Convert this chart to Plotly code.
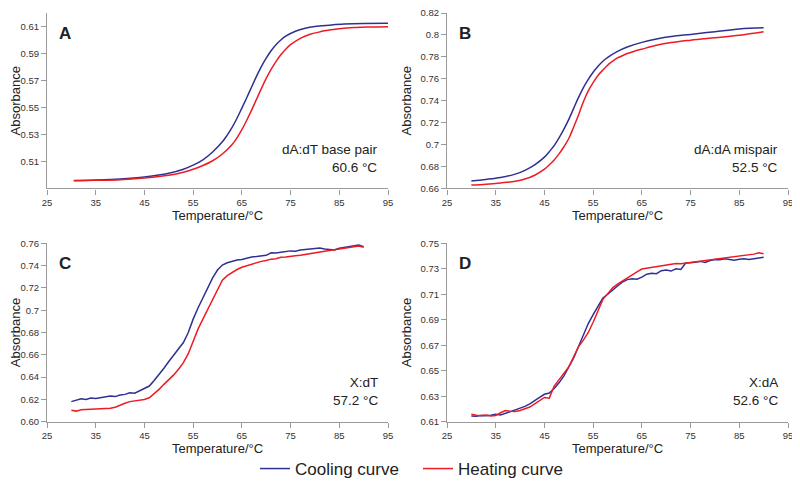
import plotly.graph_objects as go

# -------------------------
# Data
# -------------------------
# A) dA:dT base pair
a_cool_t = [30.5, 35, 40, 45, 50, 53, 55, 57, 59, 61, 62, 63, 64, 65, 66, 67, 68, 69, 70,
            71, 72, 73, 74, 76, 78, 80, 83, 86, 90, 95]
a_cool = [0.4958, 0.4962, 0.4970, 0.4985, 0.5012, 0.5042, 0.5072, 0.5112, 0.5170, 0.5245,
          0.5295, 0.5352, 0.5420, 0.5495, 0.5572, 0.5652, 0.5730, 0.5802, 0.5865, 0.5920,
          0.5965, 0.6000, 0.6028, 0.6065, 0.6087, 0.6100, 0.6110, 0.6118, 0.6123, 0.6124]
a_heat_t = [30.5, 35, 40, 45, 50, 53, 55, 57, 59, 61, 63, 64, 65, 66, 67, 68, 69, 70, 71,
            72, 73, 74, 75, 77, 79, 81, 82, 85, 88, 91, 95]
a_heat = [0.4957, 0.4960, 0.4965, 0.4978, 0.4998, 0.5020, 0.5042, 0.5070, 0.5105, 0.5155,
          0.5225, 0.5275, 0.5335, 0.5405, 0.5480, 0.5560, 0.5640, 0.5715, 0.5782, 0.5840,
          0.5890, 0.5932, 0.5965, 0.6012, 0.6042, 0.6060, 0.6068, 0.6083, 0.6092, 0.6096,
          0.6098]

# B) dA:dA mispair
b_cool_t = [30, 33, 36, 39, 41, 43, 45, 46, 47, 48, 49, 50, 51, 52, 53, 54, 55, 56, 57, 58,
            60, 62, 65, 68, 71, 75, 80, 85, 90]
b_cool = [0.6668, 0.6682, 0.6700, 0.6730, 0.6765, 0.6815, 0.6885, 0.6935, 0.6990, 0.7060,
          0.7140, 0.7230, 0.7330, 0.7430, 0.7520, 0.7595, 0.7660, 0.7715, 0.7760, 0.7795,
          0.7850, 0.7890, 0.7932, 0.7962, 0.7985, 0.8005, 0.8030, 0.8055, 0.8065]
b_heat_t = [30, 33, 36, 39, 41, 43, 45, 46, 47, 48, 49, 50, 51, 52, 53, 54, 55, 56, 57, 58,
            59, 60, 61, 62, 63, 65, 68, 71, 75, 80, 85, 90]
b_heat = [0.6630, 0.6638, 0.6650, 0.6665, 0.6685, 0.6720, 0.6775, 0.6815, 0.6860, 0.6915,
          0.6980, 0.7055, 0.7160, 0.7270, 0.7390, 0.7490, 0.7565, 0.7630, 0.7680, 0.7725,
          0.7760, 0.7790, 0.7810, 0.7830, 0.7845, 0.7870, 0.7905, 0.7930, 0.7952, 0.7975,
          0.7998, 0.8030]

# C) X:dT and D) X:dA, one reading per degree
temp_cd = list(range(30, 91))
c_cool = [0.6180, 0.6195, 0.6205, 0.6200, 0.6212, 0.6208, 0.6215, 0.6220, 0.6230, 0.6225,
          0.6240, 0.6245, 0.6260, 0.6255, 0.6275, 0.6300, 0.6320, 0.6370, 0.6420, 0.6480,
          0.6540, 0.6600, 0.6660, 0.6710, 0.6800, 0.6920, 0.7020, 0.7110, 0.7190, 0.7290,
          0.7360, 0.7405, 0.7425, 0.7440, 0.7450, 0.7455, 0.7470, 0.7478, 0.7482, 0.7488,
          0.7492, 0.7515, 0.7512, 0.7520, 0.7525, 0.7532, 0.7528, 0.7540, 0.7545, 0.7548,
          0.7552, 0.7558, 0.7548, 0.7545, 0.7540, 0.7555, 0.7562, 0.7568, 0.7572, 0.7585,
          0.7570]
c_heat = [0.6102, 0.6095, 0.6108, 0.6110, 0.6115, 0.6120, 0.6118, 0.6122, 0.6120, 0.6130,
          0.6150, 0.6165, 0.6180, 0.6185, 0.6195, 0.6200, 0.6215, 0.6250, 0.6290, 0.6335,
          0.6375, 0.6420, 0.6470, 0.6530, 0.6610, 0.6720, 0.6830, 0.6920, 0.7010, 0.7090,
          0.7180, 0.7270, 0.7310, 0.7340, 0.7365, 0.7385, 0.7400, 0.7410, 0.7425, 0.7438,
          0.7445, 0.7458, 0.7462, 0.7475, 0.7478, 0.7480, 0.7488, 0.7492, 0.7498, 0.7505,
          0.7515, 0.7522, 0.7528, 0.7535, 0.7542, 0.7550, 0.7555, 0.7560, 0.7568, 0.7575,
          0.7565]
d_cool = [0.6145, 0.6142, 0.6148, 0.6146, 0.6150, 0.6158, 0.6152, 0.6165, 0.6180, 0.6192,
          0.6205, 0.6220, 0.6240, 0.6262, 0.6290, 0.6315, 0.6325, 0.6360, 0.6405, 0.6460,
          0.6525, 0.6600, 0.6690, 0.6780, 0.6870, 0.6940, 0.7010, 0.7070, 0.7100, 0.7135,
          0.7165, 0.7195, 0.7215, 0.7222, 0.7218, 0.7235, 0.7258, 0.7265, 0.7262, 0.7285,
          0.7290, 0.7282, 0.7300, 0.7295, 0.7345, 0.7348, 0.7352, 0.7358, 0.7350, 0.7365,
          0.7372, 0.7370, 0.7378, 0.7372, 0.7368, 0.7375, 0.7378, 0.7372, 0.7380, 0.7385,
          0.7390]
d_heat = [0.6158, 0.6150, 0.6148, 0.6152, 0.6145, 0.6148, 0.6170, 0.6188, 0.6182, 0.6180,
          0.6188, 0.6200, 0.6215, 0.6240, 0.6265, 0.6290, 0.6285, 0.6380, 0.6430, 0.6480,
          0.6530, 0.6610, 0.6690, 0.6740, 0.6800, 0.6880, 0.6970, 0.7060, 0.7105, 0.7150,
          0.7180, 0.7205, 0.7228, 0.7250, 0.7275, 0.7298, 0.7305, 0.7312, 0.7318, 0.7322,
          0.7330, 0.7335, 0.7342, 0.7340, 0.7345, 0.7348, 0.7352, 0.7358, 0.7362, 0.7365,
          0.7370, 0.7378, 0.7382, 0.7385, 0.7390, 0.7395, 0.7402, 0.7410, 0.7415, 0.7425,
          0.7418]

panel_letters = ["A", "B", "C", "D"]
panel_labels = ["dA:dT base pair<br>60.6 °C", "dA:dA mispair<br>52.5 °C",
                "X:dT<br>57.2 °C", "X:dA<br>52.6 °C"]

a_ticks = [0.51, 0.53, 0.55, 0.57, 0.59, 0.61]
b_ticks = [0.66, 0.68, 0.70, 0.72, 0.74, 0.76, 0.78, 0.80, 0.82]
c_ticks = [0.60, 0.62, 0.64, 0.66, 0.68, 0.70, 0.72, 0.74, 0.76]
c_ticktext = ["0.60", "0.62", "0.64", "0.66", "0.68", "0.7", "0.72", "0.74", "0.76"]
d_ticks = [0.61, 0.63, 0.65, 0.67, 0.69, 0.71, 0.73, 0.75]

BLUE = "#2e3192"
RED = "#ed1c24"
FONT = "Liberation Sans, Arial, sans-serif"

fig = go.Figure()

curves = [
    (a_cool_t, a_cool, a_heat_t, a_heat, "x", "y", True),
    (b_cool_t, b_cool, b_heat_t, b_heat, "x2", "y2", False),
    (temp_cd, c_cool, temp_cd, c_heat, "x3", "y3", False),
    (temp_cd, d_cool, temp_cd, d_heat, "x4", "y4", False),
]
for i, (tc, yc, th, yh, xa, ya, leg) in enumerate(curves):
    smooth = "spline" if i < 2 else "linear"
    fig.add_trace(go.Scatter(x=tc, y=yc, mode="lines", name="Cooling curve",
                             line=dict(color=BLUE, width=1.5, shape=smooth),
                             xaxis=xa, yaxis=ya, showlegend=leg))
    fig.add_trace(go.Scatter(x=th, y=yh, mode="lines", name="Heating curve",
                             line=dict(color=RED, width=1.5, shape=smooth),
                             xaxis=xa, yaxis=ya, showlegend=leg))

# page body has an 8px margin, so the figure is 792x479 and sits at (8, 8)
W, H = 792, 479
xdom_left = [39 / W, 380 / W]
xdom_right = [439 / W, 780 / W]
ydom_top = [1 - 180.4 / H, 1 - 5.0 / H]
ydom_bot = [1 - 413.7 / H, 1 - 235.3 / H]

axis_common = dict(showline=True, linecolor="#9a9a9a", linewidth=1.2, ticks="outside",
                   ticklen=5, tickcolor="#9a9a9a", showgrid=False, zeroline=False,
                   tickfont=dict(size=9.5, color="#333333"), automargin=False,
                   ticklabeloverflow="allow")


def xax(dom, anchor):
    return dict(axis_common, domain=dom, anchor=anchor, range=[25, 95], tick0=25, dtick=10,
                title=dict(text="Temperature/°C", font=dict(size=13, color="#222222"),
                           standoff=2))


def yax(dom, anchor, rng, vals, text=None):
    d = dict(axis_common, domain=dom, anchor=anchor, range=rng, tickvals=vals,
             title=dict(text="Absorbance", font=dict(size=13, color="#222222"), standoff=5))
    if text:
        d["ticktext"] = text
    return d


fig.update_layout(
    width=W, height=H,
    margin=dict(l=0, r=0, t=0, b=0),
    paper_bgcolor="white", plot_bgcolor="white",
    font=dict(family=FONT, color="#222222"),
    xaxis=xax(xdom_left, "y"), yaxis=yax(ydom_top, "x", [0.49, 0.62], a_ticks),
    xaxis2=xax(xdom_right, "y2"), yaxis2=yax(ydom_top, "x2", [0.66, 0.82], b_ticks),
    xaxis3=xax(xdom_left, "y3"), yaxis3=yax(ydom_bot, "x3", [0.60, 0.76], c_ticks, c_ticktext),
    xaxis4=xax(xdom_right, "y4"), yaxis4=yax(ydom_bot, "x4", [0.61, 0.75], d_ticks),
    legend=dict(orientation="h", x=247 / W, xanchor="left", y=1 - 461 / H, yanchor="middle",
                font=dict(size=17, color="#222222"), itemwidth=30, entrywidth=118,
                bgcolor="rgba(0,0,0,0)"),
)

suffix = ["", "2", "3", "4"]
for s, letter, label in zip(suffix, panel_letters, panel_labels):
    fig.add_annotation(text=f"<b>{letter}</b>", xref=f"x{s} domain", yref=f"y{s} domain",
                       x=0.053, y=0.885, xanchor="center", yanchor="middle",
                       showarrow=False, font=dict(size=17, color="#222222"))
    fig.add_annotation(text=label, xref=f"x{s} domain", yref=f"y{s} domain",
                       x=0.977, y=0.17, xanchor="right", yanchor="middle", align="right",
                       showarrow=False, font=dict(size=13.5, color="#222222"))

fig.write_html("out.html")
